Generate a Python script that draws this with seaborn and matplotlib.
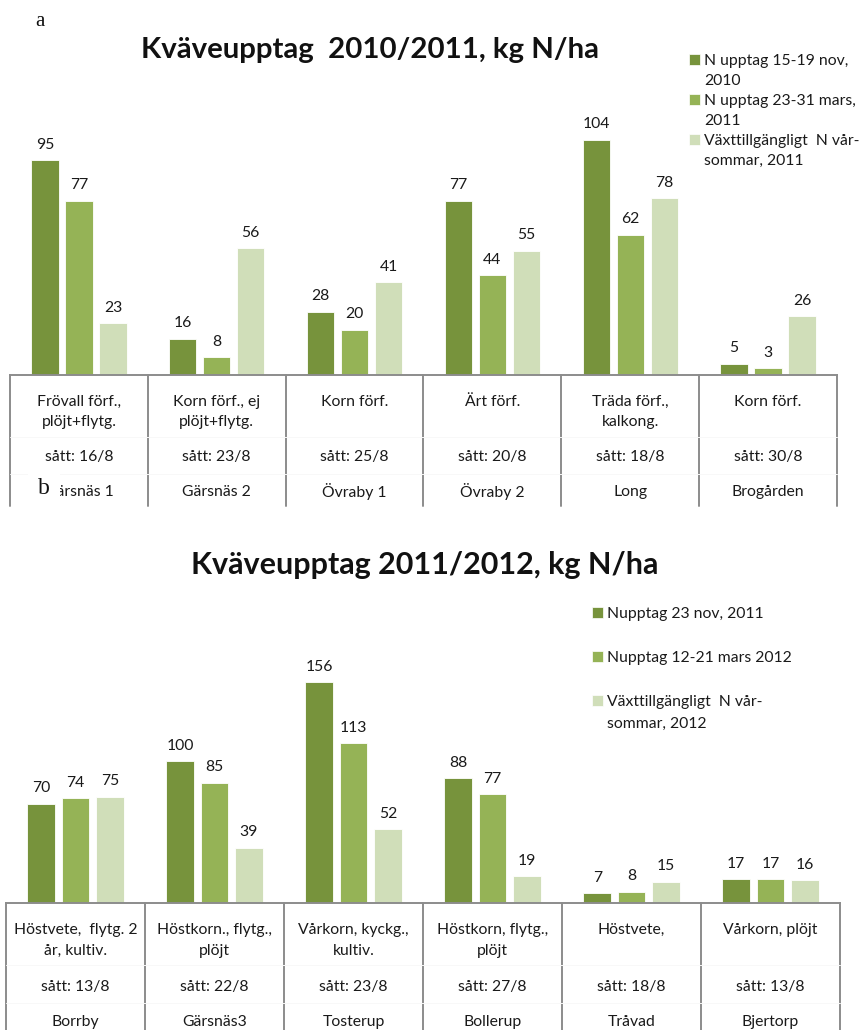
import matplotlib
matplotlib.use("Agg")
import matplotlib.pyplot as plt
import matplotlib.transforms as mtransforms
from matplotlib.patches import Patch, Rectangle
from matplotlib import font_manager
import pandas as pd
import seaborn as sns

# ---- data: season 2010/2011 ----
sites_a = ["Gärsnäs 1", "Gärsnäs 2", "Övraby 1", "Övraby 2", "Long", "Brogården"]
crops_a = ["Frövall förf.,\nplöjt+flytg.", "Korn förf., ej\nplöjt+flytg.", "Korn förf.",
           "Ärt förf.", "Träda förf.,\nkalkong.", "Korn förf."]
sown_a = ["sått: 16/8", "sått: 23/8", "sått: 25/8", "sått: 20/8", "sått: 18/8", "sått: 30/8"]
nov_2010 = [95, 16, 28, 77, 104, 5]
mars_2011 = [77, 8, 20, 44, 62, 3]
avail_2011 = [23, 56, 41, 55, 78, 26]
series_a = ["N upptag 15-19 nov,\n2010", "N upptag 23-31 mars,\n2011",
            "Växttillgängligt  N vår-\nsommar, 2011"]

# ---- data: season 2011/2012 ----
sites_b = ["Borrby", "Gärsnäs3", "Tosterup", "Bollerup", "Tråvad", "Bjertorp"]
crops_b = ["Höstvete,  flytg. 2\når, kultiv.", "Höstkorn., flytg.,\nplöjt", "Vårkorn, kyckg.,\nkultiv.",
           "Höstkorn, flytg.,\nplöjt", "Höstvete,", "Vårkorn, plöjt"]
sown_b = ["sått: 13/8", "sått: 22/8", "sått: 23/8", "sått: 27/8", "sått: 18/8", "sått: 13/8"]
nov_2011 = [70, 100, 156, 88, 7, 17]
mars_2012 = [74, 85, 113, 77, 8, 17]
avail_2012 = [75, 39, 52, 19, 15, 16]
series_b = ["Nupptag 23 nov, 2011", "Nupptag 12-21 mars 2012",
            "Växttillgängligt  N vår-\nsommar, 2012"]

colors = ["#77933C", "#95B356", "#D0DEB9"]

sns.set_theme(style="white")
plt.rcParams["font.family"] = ["Lato", "DejaVu Sans"]

installed = {f.name for f in font_manager.fontManager.ttflist}
narrow = "Liberation Sans Narrow" if "Liberation Sans Narrow" in installed else "Lato"

W, H = 862, 1030
fig = plt.figure(figsize=(W / 100, H / 100), dpi=100)
FS = 11.3


def fx(px):
    return px / W


def fy(py):
    return 1 - py / H


def panel(x0, x1, top, base, ymax, sites, crops, sown, values, names, rows, table_end, hlines):
    ax = fig.add_axes([fx(x0), fy(base), fx(x1 - x0), (base - top) / H])
    df = pd.DataFrame({
        "site": sites * 3,
        "series": [n for n in names for _ in sites],
        "value": [v for vals in values for v in vals],
    })
    sns.barplot(data=df, x="site", y="value", hue="series", order=sites, hue_order=names,
                palette=colors, width=0.74, gap=0.2, errorbar=None, legend=False,
                edgecolor="white", linewidth=0.6, saturation=1, ax=ax)
    for cont in ax.containers:
        ax.bar_label(cont, fmt="%d", padding=6, fontsize=FS, color="#1a1a1a")
    ax.set_xlim(-0.5, len(sites) - 0.5)
    ax.set_ylim(0, ymax)
    ax.set_xticks([])
    ax.set_yticks([])
    ax.set_xlabel("")
    ax.set_ylabel("")
    for s in ["left", "right", "top"]:
        ax.spines[s].set_visible(False)
    ax.spines["bottom"].set_color("#8c8c8c")
    ax.spines["bottom"].set_linewidth(1.4)

    # category table under the bars
    tr = mtransforms.blended_transform_factory(ax.transData, fig.transFigure)
    for i in range(len(sites) + 1):
        ax.plot([i - 0.5, i - 0.5], [fy(base), fy(table_end)], transform=tr,
                color="#8c8c8c", lw=1.4, clip_on=False)
    for hy in hlines:
        ax.plot([-0.5, len(sites) - 0.5], [fy(hy), fy(hy)], transform=tr,
                color="#f8f8f8", lw=0.7, clip_on=False)
    for i in range(len(sites)):
        lines = crops[i].split("\n")
        for k, ln in enumerate(lines):
            ax.text(i, fy(rows[k]), ln, transform=tr, ha="center", va="center",
                    fontsize=FS, color="#1a1a1a")
        ax.text(i, fy(rows[2]), sown[i], transform=tr, ha="center", va="center",
                fontsize=FS, color="#1a1a1a")
        ax.text(i, fy(rows[3]), sites[i], transform=tr, ha="center", va="center",
                fontsize=FS, color="#1a1a1a")
    return ax


ax_a = panel(10, 837, 60, 375, 314 / 2.256, sites_a, crops_a, sown_a,
             [nov_2010, mars_2011, avail_2011], series_a,
             [402, 422, 457, 492], 506, [437, 474])
ax_b = panel(6, 840, 600, 903, 303 / 1.417, sites_b, crops_b, sown_b,
             [nov_2011, mars_2012, avail_2012], series_b,
             [930, 951, 987, 1022], 1035, [965, 1003])

# titles
fig.text(fx(370), fy(50), "Kväveupptag  2010/2011, kg N/ha", ha="center", va="center",
         fontsize=21.2, fontweight="bold", color="#111111")
fig.text(fx(425), fy(565), "Kväveupptag 2011/2012, kg N/ha", ha="center", va="center",
         fontsize=22, fontweight="bold", color="#111111", family=[narrow, "DejaVu Sans"])

# panel letters
fig.text(fx(40), fy(22), "a", ha="center", va="center", fontsize=15,
         family=["Liberation Serif", "DejaVu Serif"], color="#111111")
fig.patches.append(Rectangle((fx(28), fy(508)), fx(32), 46 / H, transform=fig.transFigure,
                             facecolor="white", edgecolor="none", zorder=5))
fig.text(fx(44), fy(489), "b", ha="center", va="center", fontsize=17,
         family=["Liberation Serif", "DejaVu Serif"], color="#111111", zorder=6)


def legend(labels, anchor, lines, spacing):
    blank = Patch(facecolor="none", edgecolor="none")
    handles, texts = [], []
    for i, lab in enumerate(labels):
        parts = lab.split("\n")
        handles.append(Patch(facecolor=colors[i], edgecolor="white", linewidth=0.5))
        texts.append(parts[0])
        for p in parts[1:]:
            handles.append(blank)
            texts.append(p)
        for _ in range(lines[i] - len(parts)):
            handles.append(blank)
            texts.append("")
    leg = fig.legend(handles, texts, loc="upper left", bbox_to_anchor=anchor,
                     bbox_transform=fig.transFigure, frameon=False, fontsize=FS,
                     handlelength=0.72, handleheight=0.72, handletextpad=0.25,
                     labelspacing=spacing, borderpad=0, borderaxespad=0)
    for t in leg.get_texts():
        t.set_color("#1a1a1a")
    return leg


legend(series_a, (fx(689), fy(54)), [2, 2, 2], 0.38)
legend(series_b, (fx(592), fy(607)), [2, 2, 2], 0.5)

fig.savefig("out.png", dpi=100)
